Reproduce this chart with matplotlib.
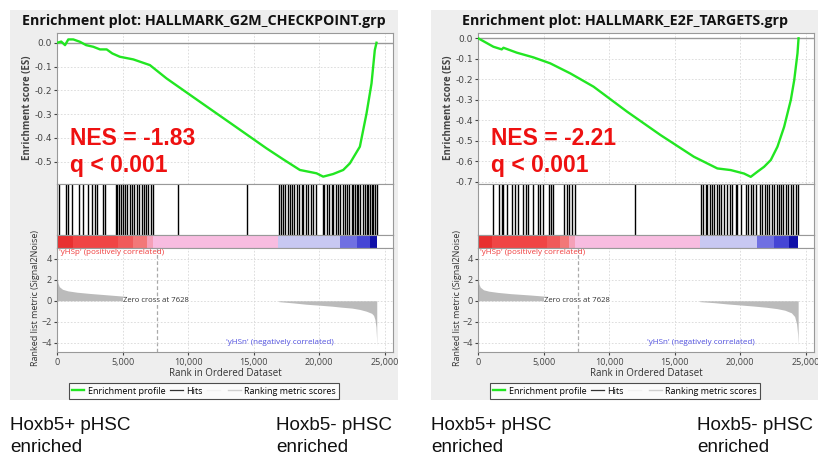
import matplotlib
matplotlib.use("Agg")
import matplotlib.pyplot as plt
from matplotlib.patches import Rectangle
from matplotlib.lines import Line2D
from matplotlib.ticker import FuncFormatter

W, H = 818, 457

# ---- values ----
es_rank_g2m = [0, 300, 590, 840, 1220, 1730, 2200, 2750, 3260, 3770, 4200, 4780, 5800, 7070, 8340,
               10880, 13430, 15970, 17240, 18520, 19790, 20300, 21060, 21830, 22340, 23100, 23610,
               23990, 24240, 24370]
es_g2m = [0, 0.005, -0.01, 0.014, 0.014, 0.004, -0.01, -0.017, -0.028, -0.028, -0.045, -0.059, -0.07,
          -0.094, -0.15, -0.248, -0.346, -0.444, -0.49, -0.535, -0.549, -0.563, -0.552, -0.535, -0.507,
          -0.437, -0.297, -0.171, -0.031, 0]
hits_g2m = [150, 660, 840, 1090, 1680, 1930, 2370, 2620, 2880, 3050, 3510, 3640, 4480, 4580, 4730,
            4830, 4990, 5170, 5340, 5550, 5670, 5850, 6060, 6260, 6440, 6620, 6770, 6950, 7120, 7330,
            9240, 14450, 16950, 17050, 17200, 17380, 17630, 17760, 17890, 18070, 18270, 18470, 18650,
            18780, 18980, 19160, 19340, 19540, 19750, 20250, 20360, 20560, 20760, 20940, 21070, 21270,
            21400, 21580, 21780, 21960, 22140, 22290, 22470, 22600, 22720, 22850, 22980, 23100, 23310,
            23490, 23610, 23740, 23870, 23990, 24120, 24250, 24380]
band_g2m = [0, 1220, 4660, 5800, 6820, 7330, 16870, 21580, 22850, 23870, 24380]
pos_rank_g2m = [0, 50, 150, 400, 800, 1500, 2500, 4000, 5000, 6000, 7000, 7628]
pos_g2m = [2.2, 1.7, 1.35, 1.1, 0.95, 0.82, 0.7, 0.55, 0.45, 0.35, 0.2, 0.0]
neg_rank_g2m = [16900, 18000, 19000, 20000, 21000, 21600, 22500, 23100, 23600, 24000, 24150, 24250,
                24330, 24370, 24390]
neg_g2m = [-0.08, -0.2, -0.33, -0.42, -0.52, -0.6, -0.7, -0.83, -1.0, -1.2, -1.4, -1.8, -2.5, -3.5, -4.3]

es_rank_e2f = [0, 1150, 1790, 1920, 2940, 4210, 5490, 7020, 8800, 11360, 13910, 16460, 18250, 19270,
               20290, 20800, 21310, 21820, 22330, 22840, 23350, 23860, 24120, 24370, 24450]
es_e2f = [0, -0.041, -0.054, -0.046, -0.07, -0.093, -0.122, -0.171, -0.236, -0.358, -0.472, -0.578,
          -0.635, -0.643, -0.66, -0.676, -0.651, -0.627, -0.594, -0.529, -0.432, -0.301, -0.204, -0.073, 0]
hits_e2f = [1150, 1610, 1790, 1910, 2220, 2550, 2810, 3060, 3440, 3620, 3830, 4160, 4520, 4720, 4920,
            5360, 5540, 5740, 6510, 6760, 6890, 7140, 7400, 11990, 17020, 17170, 17350, 17470, 17680,
            17860, 17980, 18190, 18370, 18550, 18750, 19010, 19210, 19390, 19640, 19770, 20080, 20410,
            20590, 20790, 21000, 21170, 21480, 21680, 21860, 22010, 22190, 22450, 22580, 22780, 22960,
            23140, 23290, 23470, 23650, 23850, 24030, 24230, 24410]
band_e2f = [0, 1020, 5230, 6250, 6890, 7400, 16960, 21300, 22580, 23720, 24410]
pos_rank_e2f = [0, 50, 150, 400, 800, 1500, 2500, 4000, 5000, 6000, 7000, 7628]
pos_e2f = [2.1, 1.6, 1.3, 1.05, 0.92, 0.8, 0.68, 0.55, 0.45, 0.35, 0.2, 0.0]
neg_rank_e2f = [16900, 18000, 19000, 20000, 21000, 22000, 22800, 23400, 23900, 24150, 24300, 24380, 24420]
neg_e2f = [-0.08, -0.18, -0.3, -0.4, -0.5, -0.62, -0.75, -0.9, -1.15, -1.5, -2.2, -3.2, -4.2]

band_colors = ['#E83030', '#F04545', '#F05A5A', '#F27878', '#F5A0B8', '#F8BCE0',
               '#C8C8F2', '#7070E2', '#4545D5', '#1010A8']
rank_ticks = [0, 5000, 10000, 15000, 20000, 25000]
metric_ticks = [4, 2, 0, -2, -4]
zero_cross = 7628

gsea_font = 'Open Sans'
fig = plt.figure(figsize=(W / 100, H / 100), dpi=100)


def px_axes(left, top, right, bottom):
    return fig.add_axes([left / W, 1 - bottom / H, (right - left) / W, (bottom - top) / H])


def style_spines(ax):
    for s in ax.spines.values():
        s.set_color('#999999')
        s.set_linewidth(0.8)


def draw_panel(dx, title, es_rank, es, es_ylim, es_ticks, hits, band, pos_rank, pos, neg_rank, neg, nes):
    fig.add_artist(Rectangle(((dx + 10) / W, 1 - 400 / H), 388 / W, 390 / H,
                             transform=fig.transFigure, facecolor='#EEEEEE', edgecolor='none', zorder=-5))
    fig.text((dx + 204) / W, 1 - 21 / H, title, ha='center', va='center',
             fontsize=10.3, fontweight='bold', family=gsea_font, color='#111111')
    x0, x1 = dx + 57.3, dx + 393
    xmax = 25630

    # enrichment score
    ax = px_axes(x0, 33, x1, 184)
    ax.plot(es_rank, es, color='#22E622', lw=1.7, zorder=3)
    ax.axhline(0, color='#999999', lw=1.0, zorder=2)
    ax.set_xlim(0, xmax)
    ax.set_ylim(*es_ylim)
    ax.set_xticks(rank_ticks)
    ax.set_xticklabels([])
    ax.set_yticks(es_ticks)
    ax.yaxis.set_major_formatter(FuncFormatter(lambda v, p: f'{v:.1f}'))
    ax.tick_params(length=2, labelsize=6.5, colors='#444444', pad=2)
    ax.tick_params(axis='x', length=0)
    ax.grid(True, ls=(0, (2, 2)), color='#D8D8D8', lw=0.6)
    style_spines(ax)
    fig.text((dx + 28) / W, 1 - 108 / H, 'Enrichment score (ES)', rotation=90, ha='center', va='center',
             fontsize=7, fontweight='bold', family=gsea_font, color='#444444')
    fig.text((dx + 70) / W, 1 - 145 / H, nes[0], ha='left', va='baseline', fontsize=16.5,
             fontweight='bold', family='Liberation Sans', color='#EE1111')
    fig.text((dx + 70) / W, 1 - 172 / H, nes[1], ha='left', va='baseline', fontsize=16.5,
             fontweight='bold', family='Liberation Sans', color='#EE1111')

    # hits
    ax = px_axes(x0, 184, x1, 235)
    ax.vlines(hits, 0, 1, color='black', lw=1.0)
    ax.set_xlim(0, xmax)
    ax.set_ylim(0, 1)
    ax.set_xticks([])
    ax.set_yticks([])
    style_spines(ax)

    # ranked-list heat band
    ax = px_axes(x0, 235, x1, 248)
    segs = [(band[i], band[i + 1] - band[i]) for i in range(len(band) - 1)]
    ax.broken_barh(segs, (0, 1), facecolors=band_colors, edgecolor='none')
    ax.set_xlim(0, xmax)
    ax.set_ylim(0, 1)
    ax.set_xticks([])
    ax.set_yticks([])
    style_spines(ax)

    # ranked list metric
    ax = px_axes(x0, 248, x1, 352)
    ax.fill_between(pos_rank, pos, 0, color='#BBBBBB', lw=0, zorder=2)
    ax.fill_between(neg_rank, neg, 0, color='#BBBBBB', lw=0, zorder=2)
    ax.axvline(zero_cross, ls=(0, (3, 2)), color='#AAAAAA', lw=0.9, zorder=1)
    ax.set_xlim(0, xmax)
    ax.set_ylim(-4.9, 5.05)
    ax.set_xticks(rank_ticks)
    ax.xaxis.set_major_formatter(FuncFormatter(lambda v, p: f'{int(v):,}'))
    ax.set_yticks(metric_ticks)
    ax.tick_params(length=2, labelsize=6.5, colors='#444444', pad=2)
    ax.grid(True, ls=(0, (2, 2)), color='#D8D8D8', lw=0.6)
    style_spines(ax)
    for t in ax.get_xticklabels() + ax.get_yticklabels():
        t.set_family(gsea_font)
    ax.set_xlabel('Rank in Ordered Dataset', fontsize=7, family=gsea_font, color='#333333', labelpad=1)
    ax.text(150, 4.62, "'yHSp' (positively correlated)", color='#F03C3C', fontsize=5.8,
            family=gsea_font, va='center', ha='left')
    ax.text(12900, -3.97, "'yHSn' (negatively correlated)", color='#5050E0', fontsize=5.8,
            family=gsea_font, va='center', ha='left')
    ax.text(5050, 0.0, 'Zero cross at 7628', color='#333333', fontsize=5.6, family=gsea_font,
            va='center', ha='left', zorder=4,
            bbox=dict(facecolor='white', edgecolor='none', pad=0.3))
    fig.text((dx + 36) / W, 1 - 298 / H, 'Ranked list metric (Signal2Noise)', rotation=90,
             ha='center', va='center', fontsize=6.5, family=gsea_font, color='#333333')

    handles = [Line2D([], [], color='#22E622', lw=1.7), Line2D([], [], color='#333333', lw=0.9),
               Line2D([], [], color='#F2F2F2', lw=1.0), Line2D([], [], color='#D0D0D0', lw=1.0)]
    labels = ['Enrichment profile', 'Hits', '', 'Ranking metric scores']
    leg = ax.legend(handles, labels, loc='center', bbox_to_anchor=((dx + 204) / W, 1 - 391 / H),
                    bbox_transform=fig.transFigure, ncol=4, frameon=True, fancybox=False,
                    edgecolor='#222222', handlelength=1.4, handletextpad=0.4, columnspacing=0.5,
                    borderpad=0.35, prop={'family': gsea_font, 'size': 6.5})
    leg.get_frame().set_linewidth(0.8)

    for lx, txt in [(dx + 10, 'Hoxb5+ pHSC'), (dx + 276, 'Hoxb5- pHSC')]:
        fig.text(lx / W, 1 - 430 / H, txt, ha='left', va='baseline', fontsize=13.6,
                 family='Liberation Sans', color='#111111')
        fig.text(lx / W, 1 - 452 / H, 'enriched', ha='left', va='baseline', fontsize=13.6,
                 family='Liberation Sans', color='#111111')


draw_panel(0, 'Enrichment plot: HALLMARK_G2M_CHECKPOINT.grp', es_rank_g2m, es_g2m, (-0.594, 0.041),
           [0.0, -0.1, -0.2, -0.3, -0.4, -0.5], hits_g2m, band_g2m,
           pos_rank_g2m, pos_g2m, neg_rank_g2m, neg_g2m, ('NES = -1.83', 'q < 0.001'))
draw_panel(421, 'Enrichment plot: HALLMARK_E2F_TARGETS.grp', es_rank_e2f, es_e2f, (-0.711, 0.026),
           [0.0, -0.1, -0.2, -0.3, -0.4, -0.5, -0.6, -0.7], hits_e2f, band_e2f,
           pos_rank_e2f, pos_e2f, neg_rank_e2f, neg_e2f, ('NES = -2.21', 'q < 0.001'))

fig.savefig('out.png', dpi=100, facecolor='white')
